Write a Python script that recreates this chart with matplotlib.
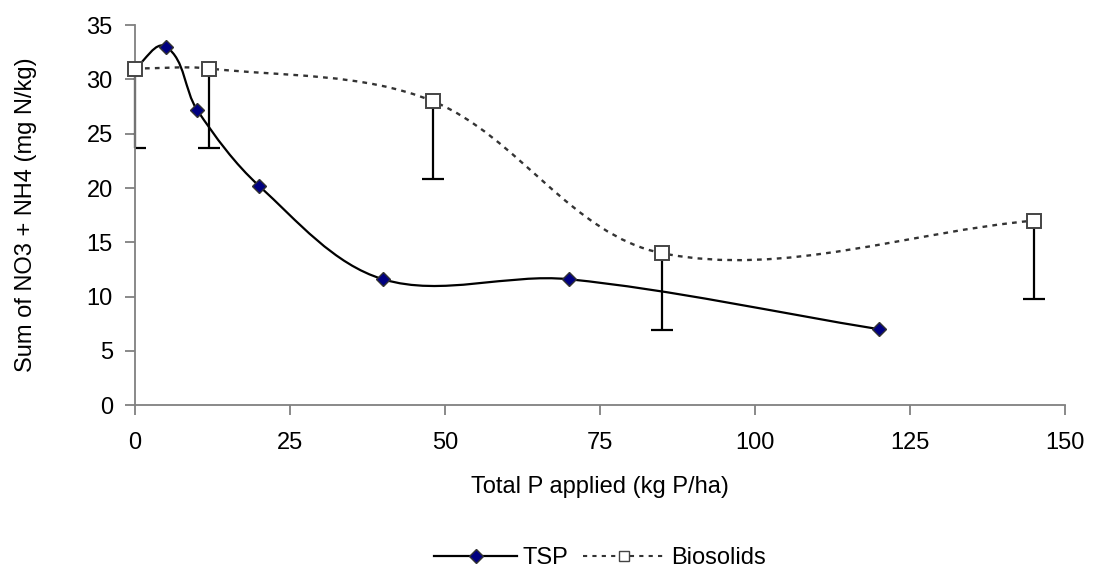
import numpy as np
import matplotlib
matplotlib.use("Agg")
import matplotlib.pyplot as plt
from matplotlib.path import Path
from matplotlib.patches import PathPatch
from matplotlib.lines import Line2D

plt.rcParams["font.family"] = ["Liberation Sans", "DejaVu Sans"]

# data
tsp_x = [0, 5, 10, 20, 40, 70, 120]
tsp_y = [31.0, 33.0, 27.2, 20.2, 11.6, 11.6, 7.0]

bio_x = [0, 12, 48, 85, 145]
bio_y = [31.0, 31.0, 28.0, 14.0, 17.0]
bio_err_low = [7.3, 7.3, 7.2, 7.1, 7.2]

FS = 17


def smooth_path(xs, ys):
    # smoothed line like excel: cubic bezier through the points,
    # tangents scaled by the segment lengths so short steps don't overshoot
    pts = np.column_stack([xs, ys]).astype(float)
    scale = np.array([1 / 150.0, 1 / 35.0 * 382 / 930])
    n = len(pts)
    tang = []
    for i in range(n):
        p0 = pts[max(i - 1, 0)]
        p2 = pts[min(i + 1, n - 1)]
        tang.append(p2 - p0)
    verts = [pts[0]]
    codes = [Path.MOVETO]
    for i in range(n - 1):
        p1, p2 = pts[i], pts[i + 1]
        d = np.hypot(*((p2 - p1) * scale))
        t1 = tang[i] / max(np.hypot(*(tang[i] * scale)), 1e-9)
        t2 = tang[i + 1] / max(np.hypot(*(tang[i + 1] * scale)), 1e-9)
        if i == 0:
            t1 = (p2 - p1) / d
        if i == n - 2:
            t2 = (p2 - p1) / d
        c1 = p1 + t1 * d / 3.0
        c2 = p2 - t2 * d / 3.0
        verts += [c1, c2, p2]
        codes += [Path.CURVE4] * 3
    return Path(verts, codes)


fig = plt.figure(figsize=(10.97, 5.70), dpi=100)
ax = fig.add_axes([0.1231, 0.289, 0.8478, 0.667])

# error bars (lower only)
low = np.array(bio_y) - np.array(bio_err_low)
ax.vlines(bio_x, low, bio_y, color="black", lw=1.6, zorder=2, clip_on=False)
ax.plot(bio_x, low, ls="none", marker="_", ms=16, mew=1.6, color="black",
        zorder=2)

# smoothed lines
ax.add_patch(PathPatch(smooth_path(bio_x, bio_y), fill=False, ec="#333333",
                       lw=1.7, ls=(0, (2, 2.2)), zorder=3, clip_on=False))
ax.add_patch(PathPatch(smooth_path(tsp_x, tsp_y), fill=False, ec="black",
                       lw=1.6, zorder=4, clip_on=False))

ax.plot(bio_x, bio_y, ls="none", marker="s", ms=10.5, mfc="white",
        mec="#444444", mew=1.4, zorder=5, clip_on=False)
ax.plot(tsp_x[1:], tsp_y[1:], ls="none", marker="D", ms=7.5, mfc="#000080",
        mec="#333333", mew=1.0, zorder=6, clip_on=False)

ax.set_xlim(0, 150)
ax.set_ylim(0, 35)
ax.set_xticks([0, 25, 50, 75, 100, 125, 150])
ax.set_yticks(range(0, 36, 5))
for s in ["top", "right"]:
    ax.spines[s].set_visible(False)
for s in ["left", "bottom"]:
    ax.spines[s].set_color("#808080")
    ax.spines[s].set_linewidth(1.3)
ax.tick_params(direction="out", length=7, width=1.3, color="#808080",
               labelsize=FS)
ax.tick_params(axis="x", pad=12)
ax.tick_params(axis="y", pad=9)

ax.set_xlabel("Total P applied (kg P/ha)", fontsize=FS, labelpad=16)
ax.set_ylabel("Sum of NO3 + NH4 (mg N/kg)", fontsize=FS, labelpad=36)

handles = [
    Line2D([], [], color="black", lw=1.6, marker="D", ms=7, mfc="#000080",
           mec="#333333"),
    Line2D([], [], color="#333333", lw=1.5, ls=(0, (2, 2.5)), marker="s",
           ms=7, mfc="white", mec="#444444"),
]
fig.legend(handles, ["TSP", "Biosolids"], loc="center", ncol=2,
           bbox_to_anchor=(0.547, 0.021), frameon=False, fontsize=FS,
           handlelength=3.5, columnspacing=0.6, handletextpad=0.25,
           borderpad=0)

plt.savefig("out.png", dpi=100)
